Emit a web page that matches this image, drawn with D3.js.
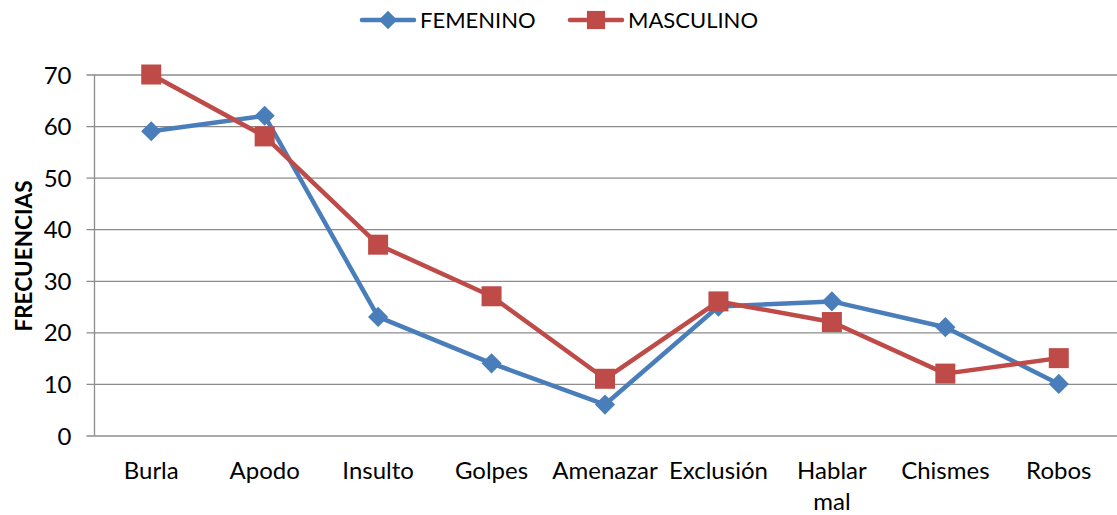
<!DOCTYPE html>
<html>
<head>
<meta charset="utf-8">
<script src="https://cdn.jsdelivr.net/npm/d3@7/dist/d3.min.js"></script>
<style>
  html, body { margin: 0; padding: 0; background: #fff; }
  svg { display: block; font-family: Lato, "Open Sans", sans-serif; }
  svg text { font-family: Lato, "Open Sans", sans-serif; fill: #000; }
</style>
</head>
<body>
<svg id="chart" width="1117" height="515"></svg>
<script>
const categories = ["Burla", "Apodo", "Insulto", "Golpes", "Amenazar", "Exclusión", "Hablar mal", "Chismes", "Robos"];
const femenino = [59, 62, 23, 14, 6, 25, 26, 21, 10];
const masculino = [70, 58, 37, 27, 11, 26, 22, 12, 15];
const yTicks = [0, 10, 20, 30, 40, 50, 60, 70];
const seriesNames = ["FEMENINO", "MASCULINO"];

const svg = d3.select("#chart");
const margin = { left: 94.5, right: 1.5, top: 74.5, bottom: 79.5 };
const W = 1117, H = 515;
const TICK_FS = "24px";
const LEGEND_FS = "22px";

const x = d3.scaleBand().domain(categories).range([margin.left, W - margin.right]);
const y = d3.scaleLinear().domain([0, 70]).range([H - margin.bottom, margin.top]);

const gridColor = "#8c8c8c";

// horizontal gridlines with left tick stubs
const yAxis = d3.axisLeft(y).tickValues(yTicks).tickSize(8).tickPadding(6).tickFormat(d3.format("d"));
const gy = svg.append("g").attr("transform", `translate(${margin.left},0)`).call(yAxis);
gy.select(".domain").remove();
gy.selectAll(".tick line").attr("stroke", gridColor).attr("stroke-width", 1.3)
  .attr("x1", -8).attr("x2", W - margin.left);
gy.selectAll(".tick text").style("font-size", TICK_FS).attr("x", -23).attr("dy", "0.36em");

// vertical axis line
svg.append("line")
  .attr("x1", margin.left).attr("x2", margin.left)
  .attr("y1", y(70)).attr("y2", y(0))
  .attr("stroke", gridColor).attr("stroke-width", 1.3);

// category labels (two-word label wraps)
const xAxis = d3.axisBottom(x).tickSize(0).tickPadding(0).tickFormat(() => "");
const gx = svg.append("g").attr("transform", `translate(0,${y(0)})`).call(xAxis);
gx.select(".domain").remove();
gx.selectAll(".tick").each(function(d) {
  const words = d === "Hablar mal" ? ["Hablar", "mal"] : [d];
  words.forEach((w, i) => {
    d3.select(this).append("text")
      .attr("x", 0).attr("y", 43.5 + i * 31)
      .attr("text-anchor", "middle")
      .style("font-size", TICK_FS)
      .text(w);
  });
});

// y axis title
svg.append("text")
  .attr("transform", `translate(32,${(y(0) + y(70)) / 2 + 1}) rotate(-90)`)
  .attr("text-anchor", "middle")
  .style("font-size", "22.5px").style("font-weight", "bold")
  .text("FRECUENCIAS");

const colors = { FEMENINO: "#4a7ebb", MASCULINO: "#be4b48" };
const cx = d => x(d) + x.bandwidth() / 2;

function drawSeries(name, values) {
  const pts = categories.map((c, i) => [cx(c), y(values[i])]);
  svg.append("path")
    .attr("d", d3.line()(pts))
    .attr("fill", "none").attr("stroke", colors[name]).attr("stroke-width", 4.5)
    .attr("stroke-linejoin", "round").attr("stroke-linecap", "round");
  const sym = name === "FEMENINO" ? d3.symbolDiamond2 : d3.symbolSquare2;
  const area = name === "FEMENINO" ? 260 : 510;
  svg.append("g").selectAll("path").data(pts).join("path")
    .attr("transform", p => `translate(${p[0]},${p[1]})`)
    .attr("d", d3.symbol(sym, area)())
    .attr("fill", colors[name]);
}
drawSeries("FEMENINO", femenino);
drawSeries("MASCULINO", masculino);

// legend
const legendItems = [
  { name: "FEMENINO", x0: 362, sym: d3.symbolDiamond2, area: 220 },
  { name: "MASCULINO", x0: 570, sym: d3.symbolSquare2, area: 420 }
];
legendItems.forEach(it => {
  const g = svg.append("g").attr("transform", `translate(${it.x0},20)`);
  g.append("line").attr("x1", 0).attr("x2", 52).attr("y1", 0).attr("y2", 0)
    .attr("stroke", colors[it.name]).attr("stroke-width", 4.5).attr("stroke-linecap", "round");
  g.append("path").attr("transform", "translate(26,0)").attr("d", d3.symbol(it.sym, it.area)())
    .attr("fill", colors[it.name]);
  g.append("text").attr("x", 58).attr("y", 0).attr("dy", "0.36em")
    .style("font-size", LEGEND_FS).text(it.name);
});
</script>
</body>
</html>
